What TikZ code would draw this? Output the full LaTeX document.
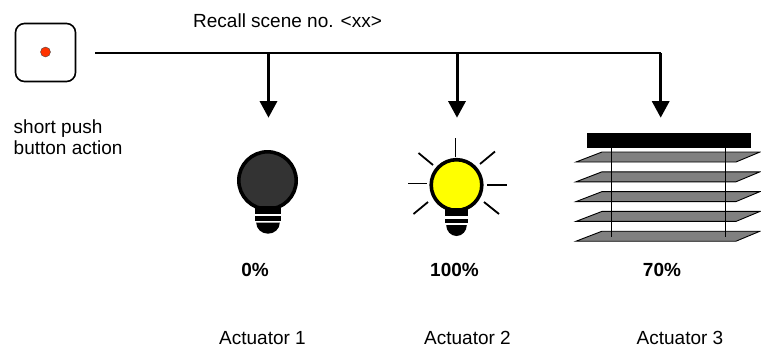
\documentclass[tikz,border=0pt]{standalone}
\usepackage{fontspec}
\setmainfont{Liberation Sans}
\usetikzlibrary{arrows.meta}
\definecolor{ledred}{RGB}{255,51,0}
\definecolor{lampon}{RGB}{255,255,0}
\definecolor{lampoff}{RGB}{51,51,51}
\definecolor{slatgrey}{RGB}{128,128,128}
\tikzset{
  px/.style={x=1pt,y=-1pt},
  lbl/.style={inner sep=0pt,font=\fontsize{19}{21}\selectfont,align=left},
  pct/.style={inner sep=0pt,font=\fontsize{19}{21}\selectfont\bfseries},
  bus/.style={line width=2.3pt},
  drop/.style={line width=3pt,-{Triangle[length=16.5pt,width=17pt]}},
  ray/.style={line width=1.8pt},
  bulbbody/.style={draw=black,line width=3.6pt},
  slat/.style={draw=black,line width=0.9pt,fill=slatgrey},
  cord/.style={line width=1pt}
}
\newcommand{\bulbbase}[3]{% x-centre, half width, y top
  \fill ({#1-#2},#3) rectangle ({#1+#2},{#3+8});
  \fill ({#1-#2},{#3+10.5}) rectangle ({#1+#2},{#3+15});
  \fill ({#1-#2+1.2},{#3+17}) -- ({#1+#2-1.2},{#3+17}) arc[start angle=0,end angle=180,x radius={#2-1.2},y radius=11] -- cycle;
}
\begin{document}
\begin{tikzpicture}[px]
\useasboundingbox (0,0) rectangle (761,349);
% push button
\node[draw=black,line width=1.6pt,rounded corners=9pt,minimum width=60pt,minimum height=58pt,inner sep=0pt] (btn) at (45.5,52.5) {};
\node[circle,draw=black!70,line width=0.4pt,fill=ledred,minimum size=10pt,inner sep=0pt] (led) at (45.5,52) {};
\node[lbl,anchor=base west] (action) at (13.5,154) {short push\\button action};
\node[lbl,anchor=base west] (title) at (193,27) {Recall scene no. <xx>};
% bus
\coordinate (busL) at (95,53.3);
\coordinate (busR) at (660.7,53.3);
\coordinate (b1) at (268.5,53.3);
\coordinate (b2) at (457,53.3);
\draw[bus] (busL) -- (busR);
\coordinate (t1) at (268.5,117.7);
\coordinate (t2) at (457,117.7);
\coordinate (t3) at (660.7,117.7);
\draw[drop] (b1) -- (t1);
\draw[drop] (b2) -- (t2);
\draw[drop] (busR) -- (t3);
% bulb 1
\draw[bulbbody,fill=lampoff] (267.5,180.5) circle (28.7);
\bulbbase{268}{13}{205.7}
% bulb 2
\draw[bulbbody,fill=lampon] (456.5,185) circle (25.3);
\bulbbase{456.5}{11.5}{208}
\draw[ray] (455.5,138) -- (455.5,157);
\draw[ray] (408,183.5) -- (427,183.5);
\draw[ray] (487,185) -- (507,185);
\draw[ray] (418.5,153) -- (433,165);
\draw[ray] (495,151.5) -- (480,164);
\draw[ray] (413.5,214) -- (428,202);
\draw[ray] (484,202) -- (499,214);
% blind
\foreach \i in {0,1,2,3,4}{
  \draw[slat] (576,{162+19.8*\i}) -- (602,{152+19.8*\i}) -- (760,{152+19.8*\i}) -- (736,{162+19.8*\i}) -- cycle;
}
\fill (587,133) rectangle (750.5,147.5);
\draw[cord] (611,147) -- (611,237);
\draw[cord] (725,147) -- (725,237);
% labels
\node[pct,anchor=base] (p1) at (255,276) {0\%};
\node[pct,anchor=base] (p2) at (454.5,276) {100\%};
\node[pct,anchor=base] (p3) at (662,276) {70\%};
\node[lbl,anchor=base] (a1) at (262.5,344) {Actuator 1};
\node[lbl,anchor=base] (a2) at (467.5,344) {Actuator 2};
\node[lbl,anchor=base] (a3) at (680,344) {Actuator 3};
\end{tikzpicture}
\end{document}
